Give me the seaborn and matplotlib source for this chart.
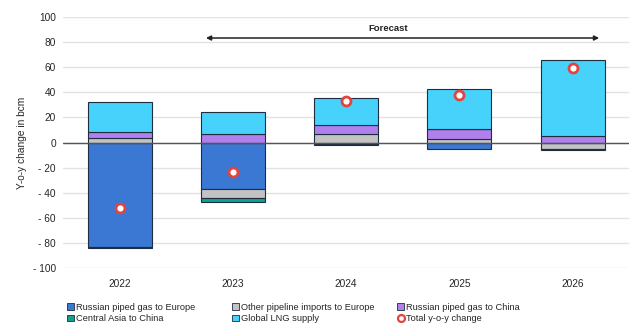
import matplotlib
matplotlib.use("Agg")
import matplotlib.pyplot as plt
from matplotlib.patches import Patch
from matplotlib.lines import Line2D
from matplotlib.ticker import FuncFormatter
import numpy as np
import pandas as pd
import seaborn as sns

# Year-on-year change in gas supply by source (bcm)
years = ["2022", "2023", "2024", "2025", "2026"]
russian_piped_europe = [-83.5, -36.8, -1.0, -5.0, 0.0]
other_pipeline_europe = [3.4, -7.2, 6.4, 3.2, -5.5]
russian_piped_china = [5.1, 6.9, 7.7, 7.7, 5.3]
central_asia_china = [-0.5, -3.5, -1.2, 0.0, -0.8]
global_lng = [23.5, 17.2, 21.2, 31.8, 60.5]
total_change = [-52.0, -23.4, 33.1, 37.7, 59.5]

series = [
    ("Russian piped gas to Europe", russian_piped_europe, "#3b78d4"),
    ("Other pipeline imports to Europe", other_pipeline_europe, "#c3c3c3"),
    ("Russian piped gas to China", russian_piped_china, "#b080ec"),
    ("Central Asia to China", central_asia_china, "#14a08c"),
    ("Global LNG supply", global_lng, "#46d2fb"),
]

sns.set_theme(style="white")
plt.rcParams["font.family"] = ["Liberation Sans", "DejaVu Sans"]
text_color = "#262626"

fig = plt.figure(figsize=(6.42, 3.28), dpi=100)
ax = fig.add_axes([0.098, 0.183, 0.882, 0.765])

pos_bottom = np.zeros(len(years))
neg_bottom = np.zeros(len(years))
for name, vals, color in series:
    v = np.array(vals, dtype=float)
    bottom = np.where(v >= 0, pos_bottom, neg_bottom)
    df = pd.DataFrame({"year": years, "value": v})
    sns.barplot(data=df, x="year", y="value", bottom=bottom, color=color,
                saturation=1, width=0.565, edgecolor="#1e2d40", linewidth=0.8,
                errorbar=None, ax=ax, zorder=3)
    pos_bottom = pos_bottom + np.where(v >= 0, v, 0)
    neg_bottom = neg_bottom + np.where(v < 0, v, 0)

tot = pd.DataFrame({"year": years, "total": total_change})
sns.scatterplot(data=tot, x="year", y="total", marker="o", s=42,
                color="white", edgecolor="#e0453f", linewidth=2.0,
                ax=ax, zorder=5, legend=False)

ax.set_ylim(-100, 100)
ax.set_xlim(-0.5, len(years) - 0.5)
ax.set_yticks(np.arange(-100, 101, 20))
ax.yaxis.set_major_formatter(FuncFormatter(
    lambda v, p: f"- {abs(int(v))}" if v < 0 else f"{int(v)}"))
ax.grid(axis="y", color="#e2e2e2", linewidth=1.0, zorder=0)
ax.grid(axis="x", visible=False)
ax.axhline(0, color="#555555", linewidth=1.0, zorder=4)
for s in ax.spines.values():
    s.set_visible(False)
ax.tick_params(axis="both", length=0, labelsize=7.3, colors=text_color, pad=5)
ax.tick_params(axis="x", pad=8)
ax.set_xlabel("")
ax.set_ylabel("Y-o-y change in bcm", fontsize=7.3, color=text_color, labelpad=4)

# Forecast span
ax.annotate("", xy=(4.235, 83.3), xytext=(0.763, 83.3),
            arrowprops=dict(arrowstyle="<|-|>", color="#222222", lw=1.1,
                            mutation_scale=7, shrinkA=0, shrinkB=0), zorder=6)
ax.text(2.37, 91, "Forecast", ha="center", va="center", fontsize=6.8,
        fontweight="bold", color="#222222")

# Legend: three fixed-width columns, two rows
handles = {name: Patch(facecolor=color, edgecolor="#1e2d40", linewidth=0.6)
           for name, _, color in series}
handles["Total y-o-y change"] = Line2D([], [], marker="o", linestyle="none",
                                       markersize=5, markerfacecolor="white",
                                       markeredgecolor="#e0453f", markeredgewidth=1.6)
columns = [
    (0.105, ["Russian piped gas to Europe", "Central Asia to China"]),
    (0.362, ["Other pipeline imports to Europe", "Global LNG supply"]),
    (0.619, ["Russian piped gas to China", "Total y-o-y change"]),
]
for x0, names in columns:
    fig.legend([handles[k] for k in names], names, loc="upper left",
               bbox_to_anchor=(x0, 0.077), ncol=1, frameon=False,
               fontsize=6.7, handlelength=0.7, handleheight=0.7,
               handletextpad=0.2, labelspacing=0.25, borderaxespad=0,
               borderpad=0, labelcolor=text_color)

fig.savefig("out.png", dpi=100)
